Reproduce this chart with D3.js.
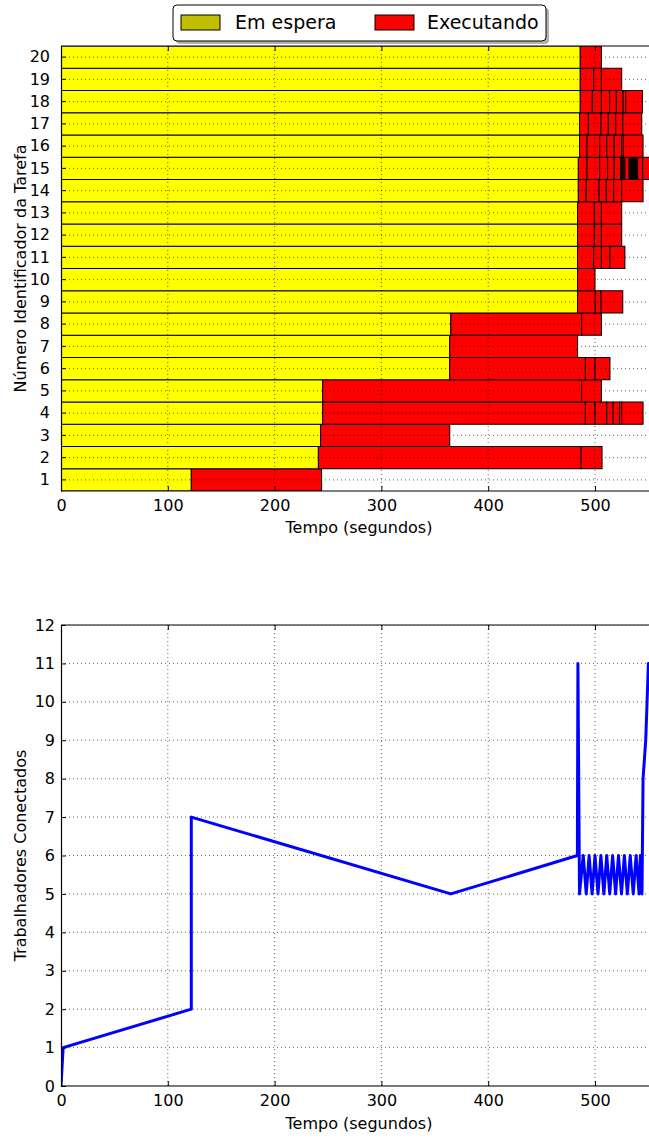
<!DOCTYPE html>
<html>
<head>
<meta charset="utf-8">
<script src="https://cdn.jsdelivr.net/npm/d3@7/dist/d3.min.js"></script>
<style>
html,body{margin:0;padding:0;background:#fff;}
svg{display:block;font-family:"DejaVu Sans",sans-serif;}
</style>
</head>
<body>
<svg id="chart" width="649" height="1138"></svg>
<script>
// ---------- DATA ----------
const tasks = [1,2,3,4,5,6,7,8,9,10,11,12,13,14,15,16,17,18,19,20];
// end of waiting (yellow) per task, seconds
const waitEnd = [122,241,243,245,245,364,364,365,483.7,483.7,483.7,483.7,483.7,484.4,484.4,485.6,485.6,486.2,486.2,486.2];
// boundaries of executing (red) segments per task, seconds
const execBounds = [
  [122,244],
  [241,487,506.6],
  [243,364],
  [245,491,500,511,517,523,525,545],
  [245,487.5,506],
  [364,491,500,514],
  [364,483.7],
  [365,487.5,506],
  [483.7,500.3,505.6,526],
  [483.7,500],
  [483.7,498.7,506,514,528],
  [483.7,499.4,506,525],
  [483.7,499.4,506,525],
  [484.4,491.8,503.8,510.6,517.5,525,545],
  [484.4,492.5,504.4,511.8,518,524,525,526,527,528,532,532.8,533.6,534.4,535.2,536,536.8,537.6,538.4,539.2,540,544.7,556],
  [485.6,492.5,504.4,511,518,524.8,526.5,545],
  [485.6,493.8,505.6,512.5,519.4,526,543.8],
  [486.2,497.5,506,513.7,520,526.3,528.8,544.4],
  [486.2,498.7,506,525],
  [486.2,506]
];
const xTicks = [0,100,200,300,400,500];
const legendLabels = ["Em espera","Executando"];

// connected workers over time
const times   = [0,2,122,122,365,483.5,484,485.5,489,491.8,494.5,497.3,500,502.8,505.5,508.3,511,513.8,516.5,519.3,522,524.8,527.5,530.3,533,535.8,538.5,541.3,542.5,544,545,547.5,550,556];
const workers = [0,1,2,7,5,6,11,5,6,5,6,5,6,5,6,5,6,5,6,5,6,5,6,5,6,5,6,5,6,5,8,9,11,10];
const yTicks2 = [0,1,2,3,4,5,6,7,8,9,10,11,12];

// ---------- DRAW ----------
const svg = d3.select("#chart");
const XMAX = 558;
const L = 61, Rpx = 61 + XMAX*1.068;
const FONT = 16;

const defs = svg.append("defs");
defs.append("clipPath").attr("id","clipTop").append("rect").attr("x",L).attr("y",46).attr("width",700).attr("height",445);
defs.append("clipPath").attr("id","clipBot").append("rect").attr("x",L).attr("y",625).attr("width",700).attr("height",461);

// ===== Top chart =====
const x1 = d3.scaleLinear().domain([0,XMAX]).range([L,Rpx]);
const y1 = d3.scaleBand().domain(tasks).range([491,46]).padding(0);
const gTop = svg.append("g");
const bars = gTop.append("g").attr("clip-path","url(#clipTop)");

tasks.forEach((t,i)=>{
  bars.append("rect")
    .attr("x",x1(0)).attr("y",y1(t))
    .attr("width",x1(waitEnd[i])-x1(0)).attr("height",y1.bandwidth())
    .attr("fill","#ffff00").attr("stroke","#000").attr("stroke-width",1);
  const b = execBounds[i];
  for(let k=0;k<b.length-1;k++){
    bars.append("rect")
      .attr("x",x1(b[k])).attr("y",y1(t))
      .attr("width",x1(b[k+1])-x1(b[k])).attr("height",y1.bandwidth())
      .attr("fill","#ff0000").attr("stroke","#000").attr("stroke-width",1);
  }
});

// grid (drawn over bars)
const gridTop = gTop.append("g").attr("clip-path","url(#clipTop)")
  .attr("stroke","#000").attr("stroke-width",0.6).attr("stroke-dasharray","1,3");
xTicks.forEach(v=>{
  gridTop.append("line").attr("x1",x1(v)).attr("x2",x1(v)).attr("y1",46).attr("y2",491);
});
tasks.forEach(t=>{
  const yc = y1(t)+y1.bandwidth()/2;
  gridTop.append("line").attr("x1",L).attr("x2",700).attr("y1",yc).attr("y2",yc);
});

// axes
const gxb = gTop.append("g").attr("transform","translate(0,491)")
  .call(d3.axisBottom(x1).tickValues(xTicks).tickSizeInner(-5).tickSizeOuter(0).tickPadding(9));
const gxt = gTop.append("g").attr("transform","translate(0,46)")
  .call(d3.axisTop(x1).tickValues(xTicks).tickSizeInner(-5).tickSizeOuter(0).tickFormat(""));
const gyl = gTop.append("g").attr("transform",`translate(${L},0)`)
  .call(d3.axisLeft(y1).tickSizeInner(-5).tickSizeOuter(0).tickPadding(11));

// ===== Bottom chart =====
const x2 = d3.scaleLinear().domain([0,XMAX]).range([L,Rpx]);
const y2 = d3.scaleLinear().domain([0,12]).range([1086,625]);
const gBot = svg.append("g");
const gridBot = gBot.append("g").attr("clip-path","url(#clipBot)")
  .attr("stroke","#000").attr("stroke-width",0.6).attr("stroke-dasharray","1,3");
xTicks.forEach(v=>{
  gridBot.append("line").attr("x1",x2(v)).attr("x2",x2(v)).attr("y1",625).attr("y2",1086);
});
yTicks2.forEach(v=>{
  gridBot.append("line").attr("x1",L).attr("x2",700).attr("y1",y2(v)).attr("y2",y2(v));
});
const line = d3.line().x((d,i)=>x2(times[i])).y((d,i)=>y2(workers[i]));
gBot.append("g").attr("clip-path","url(#clipBot)").append("path")
  .attr("d",line(times)).attr("fill","none").attr("stroke","#0000ff")
  .attr("stroke-width",3).attr("stroke-linejoin","round");

const gxb2 = gBot.append("g").attr("transform","translate(0,1086)")
  .call(d3.axisBottom(x2).tickValues(xTicks).tickSizeInner(-5).tickSizeOuter(0).tickPadding(9));
const gxt2 = gBot.append("g").attr("transform","translate(0,625)")
  .call(d3.axisTop(x2).tickValues(xTicks).tickSizeInner(-5).tickSizeOuter(0).tickFormat(""));
const gyl2 = gBot.append("g").attr("transform",`translate(${L},0)`)
  .call(d3.axisLeft(y2).tickValues(yTicks2).tickSizeInner(-5).tickSizeOuter(0).tickPadding(6));

// style axes
svg.selectAll(".domain").attr("stroke","#000").attr("stroke-width",1.2);
svg.selectAll(".tick line").attr("stroke","#000").attr("stroke-width",1);
svg.selectAll(".tick text").attr("font-size",FONT).attr("font-family","DejaVu Sans").attr("fill","#000");
[gxt, gxt2, gxb, gxb2].forEach(g=>g.select(".domain").attr("d",`M${L},0H700`));

// axis labels
const xc = (L+Rpx)/2;
svg.append("text").attr("x",xc).attr("y",533).attr("text-anchor","middle")
  .attr("font-size",16).text("Tempo (segundos)");
svg.append("text").attr("x",xc).attr("y",1129).attr("text-anchor","middle")
  .attr("font-size",16).text("Tempo (segundos)");
svg.append("text").attr("transform",`translate(26,${(46+491)/2}) rotate(-90)`).attr("text-anchor","middle")
  .attr("font-size",16).text("Número Identificador da Tarefa");
svg.append("text").attr("transform",`translate(26,${(625+1086)/2}) rotate(-90)`).attr("text-anchor","middle")
  .attr("font-size",16).text("Trabalhadores Conectados");

// legend
const lg = svg.append("g");
lg.append("rect").attr("x",176).attr("y",8).attr("width",373).attr("height",36).attr("rx",4)
  .attr("fill","#7f7f7f").attr("opacity",0.6);
lg.append("rect").attr("x",173).attr("y",5).attr("width",373).attr("height",36).attr("rx",4)
  .attr("fill","#fff").attr("stroke","#000").attr("stroke-width",1);
const legColors = ["#bfbf00","#ff0000"];
const legPatchX = [181,375], legTextX = [235,427];
legendLabels.forEach((t,i)=>{
  lg.append("rect").attr("x",legPatchX[i]).attr("y",15).attr("width",39).attr("height",15)
    .attr("fill",legColors[i]).attr("stroke","#000").attr("stroke-width",1);
  lg.append("text").attr("x",legTextX[i]).attr("y",29).attr("font-size",19).text(t);
});
</script>
</body>
</html>
